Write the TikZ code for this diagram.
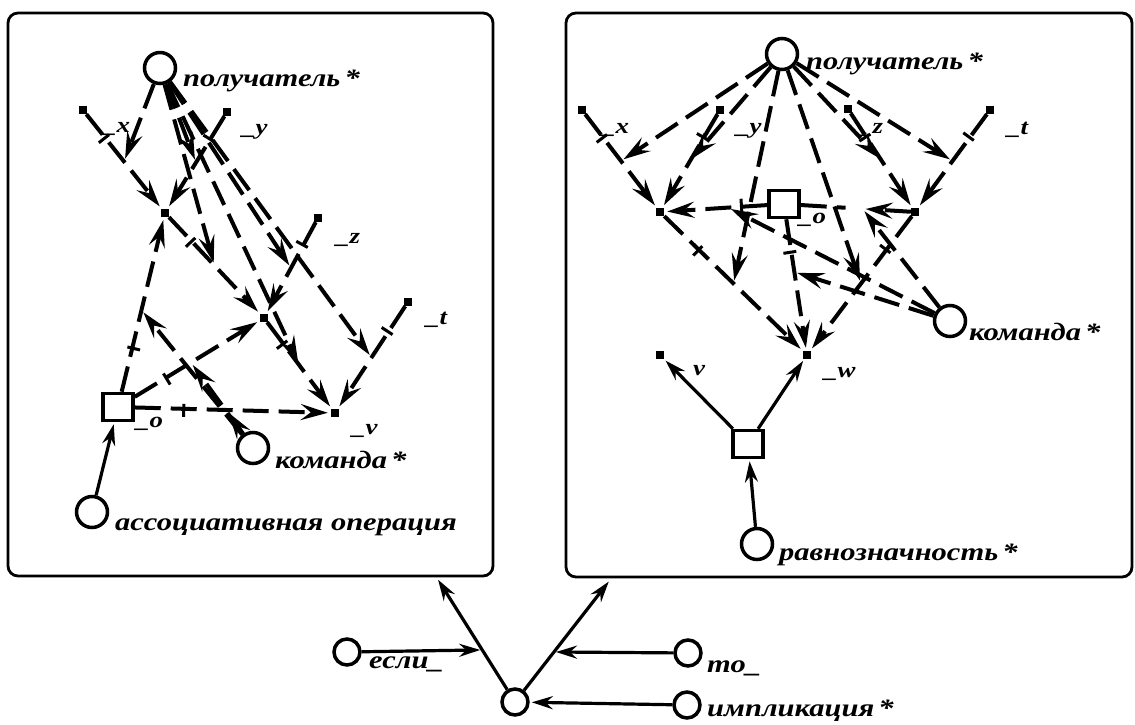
\documentclass[tikz,border=0pt]{standalone}
\usepackage{fontspec}
\setmainfont{Liberation Serif}
\newfontfamily\lblfont[FakeStretch=1.22]{Liberation Serif}
\usetikzlibrary{arrows.meta,calc,decorations.markings}
\begin{document}
\begin{tikzpicture}[x=1pt,y=-1pt,
  lbl/.style={font=\lblfont\bfseries\itshape\fontsize{25}{25}\selectfont, inner sep=0, anchor=base west},
  vlbl/.style={font=\lblfont\bfseries\itshape\fontsize{22}{22}\selectfont, inner sep=0, anchor=base west},
  dotn/.style={rectangle, fill=black, minimum size=8pt, inner sep=0},
  reln/.style={circle, draw, fill=white, line width=3.5pt, minimum size=31pt, inner sep=0},
  relsm/.style={reln, minimum size=26pt},
  sqn/.style={rectangle, draw, fill=white, line width=3.5pt, minimum width=30pt, minimum height=27pt, inner sep=0},
  frame/.style={draw, line width=2.8pt, rounded corners=10pt},
  vtip/.style={-{Stealth[length=27pt,width=16pt,inset=10pt]}},
  dline/.style={line width=4pt, dash pattern=on 26pt off 10pt},
  varc/.style={vtip, dline, shorten >=3pt},
  tarc/.style={varc, postaction={decorate}, decoration={markings, mark=at position 0.25 with {\draw[solid,-,line width=3pt] (0pt,-8pt) -- (0pt,8pt);}}},
  sarc/.style={-{Stealth[length=21pt,width=13pt,inset=7pt]}, line width=3.2pt, shorten >=2pt}
]
\useasboundingbox (0,0) rectangle (1135,725);

% frames
\draw[frame] (8,13) rectangle (493,576);
\draw[frame] (566,13) rectangle (1132,577);

% ---------- left box ----------
\node[reln] (R1) at (160,68) {};
\node[dotn] (X1) at (83,110) {};
\node[dotn] (Y1) at (227,112) {};
\node[dotn] (A1) at (165,213) {};
\node[dotn] (Z1) at (318,218) {};
\node[dotn] (B1) at (264,318) {};
\node[dotn] (T1) at (408,302) {};
\node[dotn] (V1) at (335,413) {};
\node[sqn] (O1) at (118,407) {};
\node[reln] (K1) at (253,448) {};
\node[reln] (AO) at (92,512) {};

\draw[tarc] (X1) -- (A1);
\draw[tarc] (Y1) -- (A1);
\draw[tarc] (A1) -- (B1);
\draw[tarc] (Z1) -- (B1);
\draw[tarc] (B1) -- (V1);
\draw[tarc] (T1) -- (V1);
\draw[tarc] (O1) -- (A1);
\draw[tarc] (O1) -- (B1);
\draw[tarc] (O1) -- (V1);

\coordinate (la1) at ($(X1)!0.5!(A1)$);
\coordinate (la2) at ($(Y1)!0.5!(A1)$);
\coordinate (la3) at ($(A1)!0.5!(B1)$);
\coordinate (la4) at ($(Z1)!0.5!(B1)$);
\coordinate (la5) at ($(B1)!0.5!(V1)$);
\coordinate (la6) at ($(T1)!0.5!(V1)$);
\coordinate (la7) at ($(O1)!0.5!(A1)$);
\coordinate (la8) at ($(O1)!0.5!(B1)$);
\coordinate (la9) at ($(O1)!0.5!(V1)$);

\foreach \m in {la1,la2,la3,la4,la5,la6} \draw[varc] (R1) -- (\m);
\foreach \m in {la7,la8,la9} \draw[varc] (K1) -- (\m);
\draw[sarc] (AO) -- (O1);

\node[lbl] (tR1) at (183,86) {получатель\,*};
\node[vlbl] (tX1) at (103,132) {\_x};
\node[vlbl] (tY1) at (242,134) {\_y};
\node[vlbl] (tZ1) at (336,243) {\_z};
\node[vlbl] (tT1) at (426,324) {\_t};
\node[vlbl] (tO1) at (136,427) {\_o};
\node[vlbl] (tV1) at (352,434) {\_v};
\node[lbl] (tK1) at (275,468) {команда\,*};
\node[lbl] (tAO) at (115,530) {ассоциативная операция};

% ---------- right box ----------
\node[reln] (R2) at (782,54) {};
\node[dotn] (X2) at (582,110) {};
\node[dotn] (Y2) at (720,110) {};
\node[dotn] (Z2) at (848,109) {};
\node[dotn] (T2) at (990,110) {};
\node[dotn] (P) at (660,212) {};
\node[dotn] (Q) at (915,212) {};
\node[sqn] (O2) at (784,204) {};
\node[dotn] (W) at (807,355) {};
\node[dotn] (Vv) at (660,355) {};
\node[reln] (K2) at (950,321) {};
\node[sqn] (S2) at (748,444) {};
\node[reln] (EQ) at (757,544) {};

\draw[tarc] (X2) -- (P);
\draw[tarc] (Y2) -- (P);
\draw[tarc] (Z2) -- (Q);
\draw[tarc] (T2) -- (Q);
\draw[tarc] (P) -- (W);
\draw[tarc] (Q) -- (W);
\draw[tarc] (O2) -- (P);
\draw[tarc] (O2) -- (W);
\coordinate (c2a) at ($(O2)!0.47!(Q)$);
\coordinate (c2b) at ($(O2)!0.6!(Q)$);
\draw[dline] (O2) -- (c2a);
\draw[varc] (Q) -- (c2b);

\coordinate (rb1) at ($(X2)!0.5!(P)$);
\coordinate (rb2) at ($(Y2)!0.5!(P)$);
\coordinate (rb3) at ($(Z2)!0.5!(Q)$);
\coordinate (rb4) at ($(T2)!0.5!(Q)$);
\coordinate (rb5) at ($(P)!0.5!(W)$);
\coordinate (rb6) at ($(Q)!0.5!(W)$);
\coordinate (rc1) at ($(O2)!0.45!(P)$);
\coordinate (rc3) at ($(O2)!0.45!(W)$);

\foreach \m in {rb1,rb2,rb3,rb4,rb5,rb6} \draw[varc] (R2) -- (\m);
\foreach \m in {rc1,rc3,c2b} \draw[varc] (K2) -- (\m);
\draw[sarc] (S2) -- (Vv);
\draw[sarc] (S2) -- (W);
\draw[sarc] (EQ) -- (S2);

\node[lbl] (tR2) at (806,70) {получатель\,*};
\node[vlbl] (tX2) at (602,133) {\_x};
\node[vlbl] (tY2) at (736,133) {\_y};
\node[vlbl] (tZ2) at (859,133) {\_z};
\node[vlbl] (tT2) at (1007,134) {\_t};
\node[vlbl] (tO2) at (799,223) {\_o};
\node[vlbl] (tW) at (824,377) {\_w};
\node[vlbl] (tVv) at (693,375) {v};
\node[lbl] (tK2) at (969,340) {команда\,*};
\node[lbl] (tEQ) at (779,560) {равнозначность\,*};

% ---------- bottom ----------
\node[relsm] (O) at (515,702) {};
\node[relsm] (IF) at (347,652) {};
\node[relsm] (TH) at (688,653) {};
\node[relsm] (IM) at (687,705) {};
\coordinate (fL) at (437,578);
\coordinate (fR) at (610,580);
\draw[sarc] (O) -- (fL);
\draw[sarc] (O) -- (fR);
\coordinate (mL) at ($(O)!0.42!(fL)$);
\coordinate (mR) at ($(O)!0.41!(fR)$);
\draw[sarc] (IF) -- (mL);
\draw[sarc] (TH) -- (mR);
\draw[sarc] (IM) -- (O);

\node[lbl] (tIF) at (369,668) {если\_};
\node[lbl] (tTH) at (707,672) {то\_};
\node[lbl] (tIM) at (707,716) {импликация\,*};
\end{tikzpicture}
\end{document}
